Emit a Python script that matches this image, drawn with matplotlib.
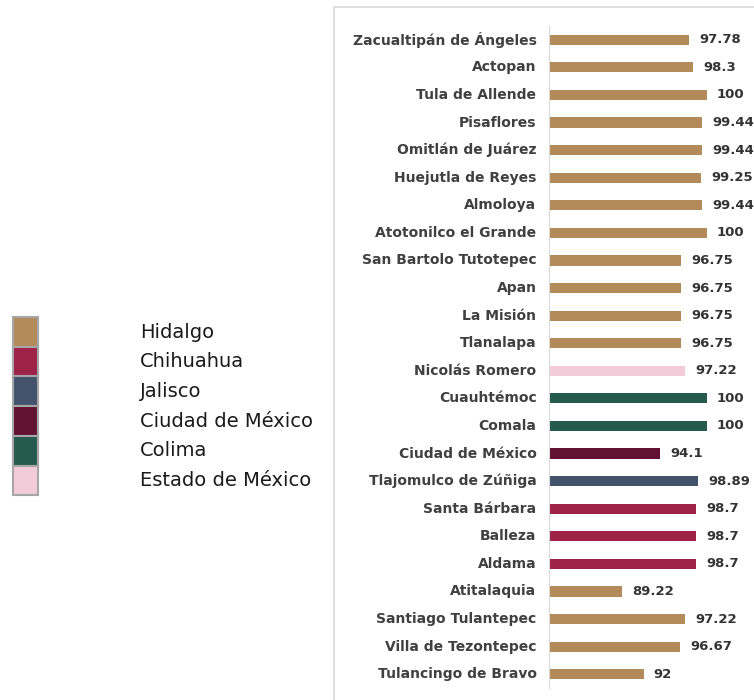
import matplotlib
matplotlib.use("Agg")
import matplotlib.pyplot as plt
from matplotlib.patches import Rectangle

municipios = ['Zacualtipán de Ángeles', 'Actopan', 'Tula de Allende', 'Pisaflores',
              'Omitlán de Juárez', 'Huejutla de Reyes', 'Almoloya', 'Atotonilco el Grande',
              'San Bartolo Tutotepec', 'Apan', 'La Misión', 'Tlanalapa', 'Nicolás Romero',
              'Cuauhtémoc', 'Comala', 'Ciudad de México', 'Tlajomulco de Zúñiga',
              'Santa Bárbara', 'Balleza', 'Aldama', 'Atitalaquia', 'Santiago Tulantepec',
              'Villa de Tezontepec', 'Tulancingo de Bravo']
valores = [97.78, 98.3, 100, 99.44, 99.44, 99.25, 99.44, 100, 96.75, 96.75, 96.75, 96.75,
           97.22, 100, 100, 94.1, 98.89, 98.7, 98.7, 98.7, 89.22, 97.22, 96.67, 92]
estados = ['Hidalgo'] * 12 + ['Estado de México', 'Colima', 'Colima', 'Ciudad de México',
                              'Jalisco', 'Chihuahua', 'Chihuahua', 'Chihuahua',
                              'Hidalgo', 'Hidalgo', 'Hidalgo', 'Hidalgo']

leyenda = ['Hidalgo', 'Chihuahua', 'Jalisco', 'Ciudad de México', 'Colima', 'Estado de México']
colores = {'Hidalgo': '#B38B5A', 'Chihuahua': '#9E2148', 'Jalisco': '#43536B',
           'Ciudad de México': '#621132', 'Colima': '#245B4D', 'Estado de México': '#F3CCD9'}

plt.rcParams['font.family'] = ['DejaVu Sans']

W, H = 754, 700
fig = plt.figure(figsize=(W / 100, H / 100), dpi=100)

# marco gris del area del grafico
fig.add_artist(Rectangle((334 / W, -0.1), 1, (H - 7) / H + 0.1, transform=fig.transFigure,
                         facecolor='none', edgecolor='#D9D9D9', linewidth=1.2))

ax = fig.add_axes([549 / W, (H - 688) / H, (746 - 549) / W, (688 - 26) / H])
y = list(range(len(municipios)))
ax.barh(y, [v - 80 for v in valores], left=80, height=0.37,
        color=[colores[e] for e in estados])
ax.set_xlim(80, 105)
ax.set_ylim(len(municipios) - 0.5, -0.5)
ax.set_yticks(y)
ax.set_yticklabels(municipios, fontsize=10, fontweight='bold', color='#404040', va='center')
ax.tick_params(axis='y', length=0, pad=9)
ax.set_xticks([])
for s in ['top', 'right', 'bottom']:
    ax.spines[s].set_visible(False)
ax.spines['left'].set_color('#D9D9D9')
ax.patch.set_alpha(0)

for yi, v in zip(y, valores):
    ax.text(v + 1.3, yi, f'{v:g}', va='center', ha='left', fontsize=9.5,
            fontweight='bold', color='#333333', clip_on=False)

# leyenda manual
for i, est in enumerate(leyenda):
    top = 317 + i * 29.7
    fig.add_artist(Rectangle((13 / W, 1 - (top + 29.7) / H), 25 / W, 29.7 / H,
                             transform=fig.transFigure, facecolor=colores[est],
                             edgecolor='#A6A6A6', linewidth=1.5))
    fig.text(140 / W, 1 - (top + 15) / H, est, fontsize=14, color='#1A1A1A',
             va='center', ha='left')

fig.savefig('out.png', dpi=100)
